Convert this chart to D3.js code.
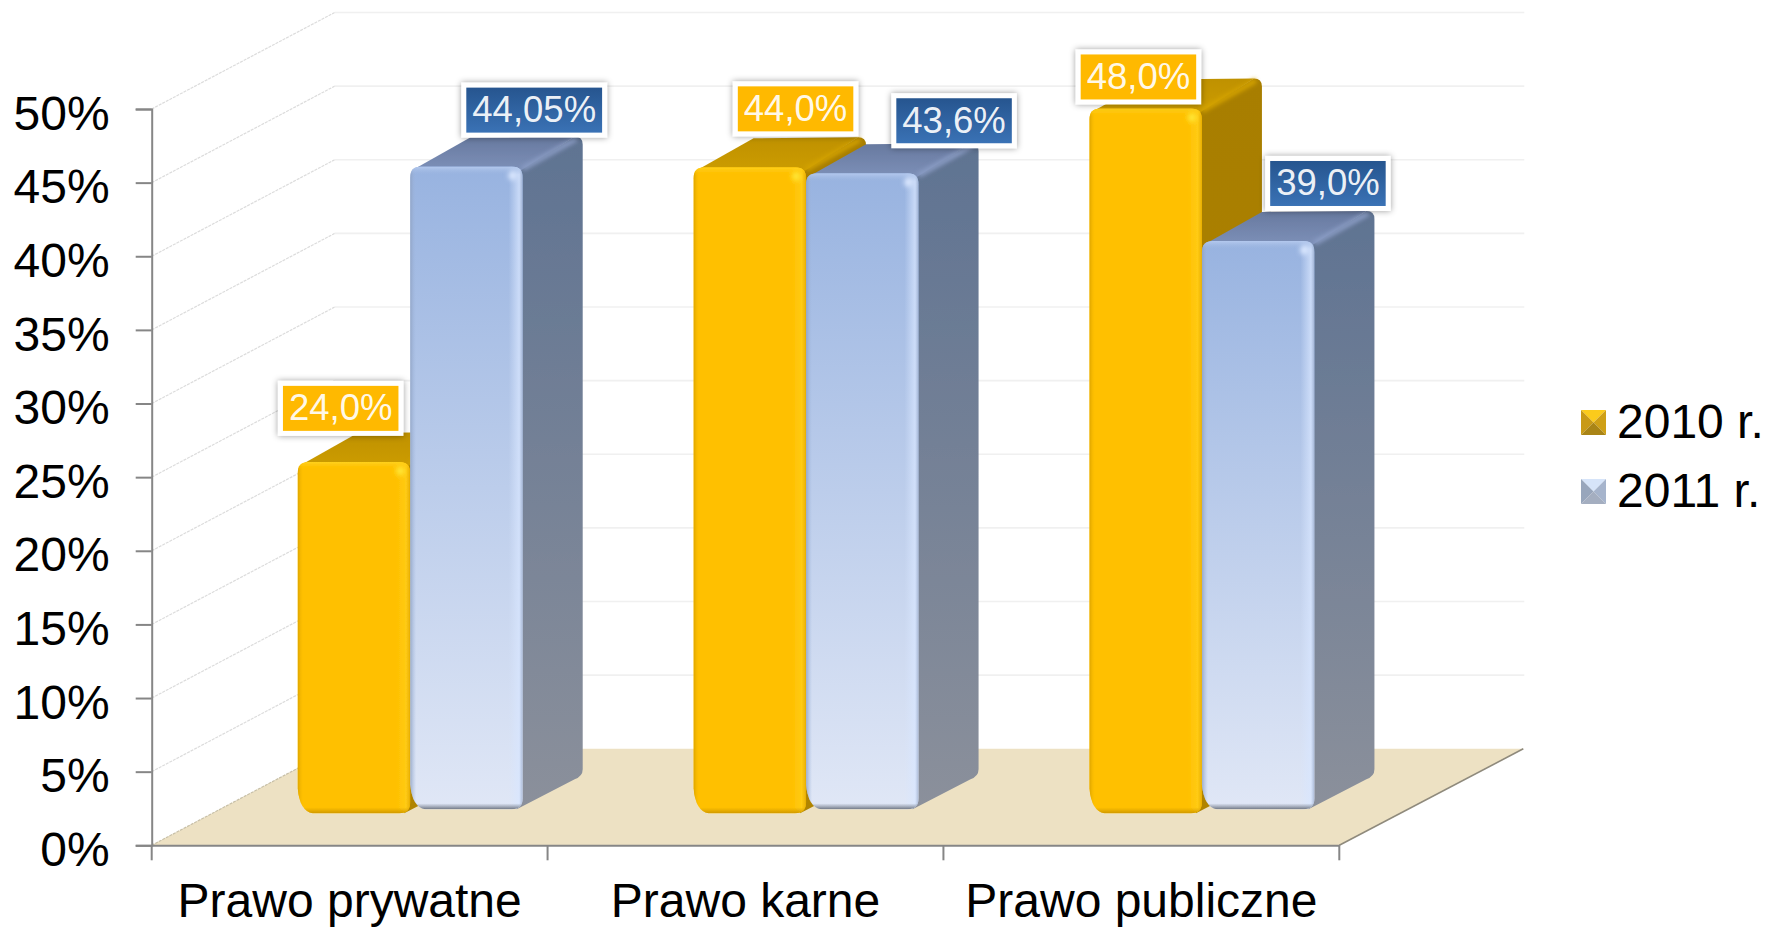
<!DOCTYPE html>
<html>
<head>
<meta charset="utf-8">
<style>
html, body { margin: 0; padding: 0; background: #fff; }
svg { display: block; }
text { font-family: "Liberation Sans", Arial, sans-serif; }
.axis path, .axis line { stroke: #868686; stroke-width: 2; }
.axis text { fill: #000; font-size: 48px; }
</style>
<script src="https://cdn.jsdelivr.net/npm/d3@7"></script>
</head>
<body>
<svg id="chart"></svg>
<script>
var categories = ["Prawo prywatne", "Prawo karne", "Prawo publiczne"];
var seriesNames = ["2010 r.", "2011 r."];
var values2010 = [24.0, 44.0, 48.0];
var values2011 = [44.05, 43.6, 39.0];
var labels2010 = ["24,0%", "44,0%", "48,0%"];
var labels2011 = ["44,05%", "43,6%", "39,0%"];
var yTicks = [0, 5, 10, 15, 20, 25, 30, 35, 40, 45, 50];

var width = 1767, height = 927;
var plotLeft = 151.7, plotRight = 1339.3, plotBottom = 845.3, plotTop = 109;
var wallDx = 183, wallDy = 96.5;
var depthDx = 60, depthDy = 30;
var topLift = 30;

// labels were moved by hand in the original, so they get their own nudges
var labelShift2010 = [[43, -56], [102, -61], [49, -34]];
var labelShift2011 = [[124, -59], [148, -55], [126, -60]];

var series = [
    {name: seriesNames[0], values: values2010, labels: labels2010, shift: labelShift2010, lift: 32, cls: "y",
        box: "#ffb900", boxEnd: "#ffb900"},
    {name: seriesNames[1], values: values2011, labels: labels2011, shift: labelShift2011, lift: 36, cls: "b",
        box: "#26558f", boxEnd: "#3a72b5"}
];

var svg = d3.select("#chart").attr("width", width).attr("height", height);
var defs = svg.append("defs");

function gradient(id, x2, y2, stops) {
    var g = defs.append("linearGradient").attr("id", id).attr("x1", 0).attr("y1", 0).attr("x2", x2).attr("y2", y2);
    stops.forEach(function(s) {
        g.append("stop").attr("offset", s[0]).attr("stop-color", s[1]).attr("stop-opacity", s[2] === undefined ? 1 : s[2]);
    });
}

gradient("faceB", 0, 1, [[0, "#98b3e0"], [1, "#e0e7f6"]]);
gradient("faceY", 0, 1, [[0, "#ffc000"], [1, "#ffc000"]]);
gradient("sideB", 0, 1, [[0, "#5f7392"], [1, "#8b909b"]]);
gradient("sideY", 0, 1, [[0, "#a87e00"], [1, "#b08400"]]);
gradient("topB", 0, 1, [[0, "#67799f"], [1, "#7d90b8"]]);
gradient("topY", 0, 1, [[0, "#bf9100"], [1, "#cc9c00"]]);
gradient("leftY", 1, 0, [[0, "#dca400"], [1, "#ffc000", 0]]);
gradient("rightY", 1, 0, [[0, "#ffcb14", 0], [0.7, "#ffcb14"], [1, "#e8ae00"]]);
gradient("leftB", 1, 0, [[0, "#8ea0bf", 0.8], [1, "#a0b8e0", 0]]);
gradient("rightB", 1, 0, [[0, "#d8e6ff", 0], [0.75, "#d8e6ff", 0.75], [1, "#9fb0cf", 0.8]]);
gradient("bottomY", 0, 1, [[0, "#d89f00", 0], [1, "#cf9800"]]);
gradient("bottomB", 0, 1, [[0, "#7d8694", 0], [1, "#6f7683"]]);
gradient("topEdgeY", 0, 1, [[0, "#ffd21e"], [1, "#ffc000", 0]]);
gradient("topEdgeB", 0, 1, [[0, "#b4c9ee"], [1, "#a0b8e0", 0]]);
series.forEach(function(s, i) {
    gradient("box" + i, 0, 1, [[0, s.box], [1, s.boxEnd]]);
});

var soft = defs.append("filter").attr("id", "soft");
soft.append("feGaussianBlur").attr("stdDeviation", 0.7);
var blur = defs.append("filter").attr("id", "blur").attr("x", "-50%").attr("y", "-50%").attr("width", "200%").attr("height", "200%");
blur.append("feGaussianBlur").attr("stdDeviation", 2);
var glow = defs.append("filter").attr("id", "glow").attr("x", "-100%").attr("y", "-100%").attr("width", "300%").attr("height", "300%");
glow.append("feGaussianBlur").attr("stdDeviation", 2.5);
var shadow = defs.append("filter").attr("id", "shadow").attr("x", "-20%").attr("y", "-30%").attr("width", "140%").attr("height", "160%");
shadow.append("feDropShadow").attr("dx", 0).attr("dy", 0).attr("stdDeviation", 3).attr("flood-color", "#000").attr("flood-opacity", 0.4);

var x0 = d3.scaleBand().domain(categories).range([plotLeft, plotRight]);
var y = d3.scaleLinear().domain([0, 50]).range([plotBottom, plotTop]);
var barStart = 146, barWidth = 112.5;
var x1 = d3.scaleBand().domain(seriesNames).range([barStart, barStart + 2 * barWidth]);

// floor
svg.append("path")
    .attr("d", d3.line()([[plotLeft, plotBottom], [plotLeft + wallDx, plotBottom - wallDy], [plotRight + wallDx + 1, plotBottom - wallDy], [plotRight, plotBottom]]))
    .attr("fill", "#ede1c3");

// walls, one line per tick
var grid = svg.append("g").attr("filter", "url(#soft)");
grid.selectAll(".wall").data(yTicks).enter().append("line").attr("class", "wall")
    .attr("x1", plotLeft).attr("y1", function(d) { return y(d); })
    .attr("x2", plotLeft + wallDx).attr("y2", function(d) { return y(d) - wallDy; })
    .attr("stroke", function(d) { return d === 0 ? "#c8c0a8" : "#dcdcdc"; })
    .attr("stroke-width", 1.2).attr("stroke-dasharray", "3 1");
grid.selectAll(".back").data(yTicks.filter(function(d) { return d > 0; })).enter().append("line").attr("class", "back")
    .attr("x1", plotLeft + wallDx).attr("y1", function(d) { return y(d) - wallDy; })
    .attr("x2", plotRight + wallDx + 2).attr("y2", function(d) { return y(d) - wallDy; })
    .attr("stroke", "#f0f0f0").attr("stroke-width", 1.6);
svg.append("line")
    .attr("x1", plotRight).attr("y1", plotBottom)
    .attr("x2", plotRight + wallDx + 1).attr("y2", plotBottom - wallDy)
    .attr("stroke", "#8f8a7c").attr("stroke-width", 1.6);

// axes
var yAxis = d3.axisLeft(y).tickValues(yTicks).tickSize(16).tickPadding(26).tickFormat(function(d) { return d + "%"; });
var yG = svg.append("g").attr("class", "axis").attr("transform", "translate(" + plotLeft + ",0)").call(yAxis);
yG.selectAll("text").attr("dy", "0.42em");

var xAxis = d3.axisBottom(x0).tickSize(0).tickPadding(38);
var xG = svg.append("g").attr("class", "axis").attr("transform", "translate(0," + plotBottom + ")").call(xAxis);
xG.selectAll("text").attr("dy", "0.71em");
xG.selectAll(".edge").data(d3.range(categories.length + 1)).enter().append("line").attr("class", "edge")
    .attr("x1", function(d) { return plotLeft + d * x0.bandwidth(); })
    .attr("x2", function(d) { return plotLeft + d * x0.bandwidth(); })
    .attr("y1", 0).attr("y2", 15);

function face(a, b, t, m, r) {
    var p = d3.path();
    p.moveTo(a, t + r);
    p.quadraticCurveTo(a, t, a + r, t);
    p.lineTo(b - r, t);
    p.quadraticCurveTo(b, t, b, t + r);
    p.lineTo(b, m - r);
    p.quadraticCurveTo(b, m, b - r, m);
    p.lineTo(a + r + 4, m);
    p.quadraticCurveTo(a + 2, m - 2, a, m - r - 14);
    p.closePath();
    return p.toString();
}

var bars = svg.append("g");

function drawBar(catIndex, s, sIndex) {
    var v = s.values[catIndex];
    var a = x0(categories[catIndex]) + x1(s.name);
    var b = a + barWidth;
    var t = y(v) - topLift;
    var m = plotBottom - s.lift;
    var g = bars.append("g").attr("filter", "url(#soft)");
    var clipId = "clip" + catIndex + "-" + sIndex;
    var up = s.cls.toUpperCase();

    var sidePath = "M" + (b - 2) + "," + (t + 4) + "L" + (b + depthDx - 8) + "," + (t - depthDy)
        + "Q" + (b + depthDx) + "," + (t - depthDy) + " " + (b + depthDx) + "," + (t - depthDy + 8)
        + "L" + (b + depthDx) + "," + (m - 40) + "Q" + (b + depthDx) + "," + (m - 33) + " " + (b + depthDx - 8) + "," + (m - 30)
        + "L" + (b - 6) + "," + m + "Z";

    g.append("path").attr("fill", "url(#top" + up + ")")
        .attr("d", "M" + (a + 5) + "," + (t + 2) + "L" + (a + depthDx) + "," + (t - depthDy + 1)
            + "L" + (b + depthDx - 8) + "," + (t - depthDy) + "L" + b + "," + (t + 4) + "Z");
    g.append("path").attr("fill", "url(#side" + up + ")").attr("d", sidePath);

    // lighter ridge where the top meets the side
    g.append("line")
        .attr("x1", b).attr("y1", t + 2)
        .attr("x2", b + depthDx - 6).attr("y2", t - depthDy + 2)
        .attr("stroke", s.cls === "y" ? "#d4a300" : "#8a9cc4").attr("stroke-width", 5).attr("filter", "url(#blur)");

    defs.append("clipPath").attr("id", clipId).append("path").attr("d", face(a, b, t, m, 11));
    g.append("path").attr("d", face(a, b, t, m, 11)).attr("fill", "url(#face" + up + ")");

    var bevel = g.append("g").attr("clip-path", "url(#" + clipId + ")");
    bevel.append("rect").attr("x", a).attr("y", t).attr("width", 6).attr("height", m - t).attr("fill", "url(#left" + up + ")");
    bevel.append("rect").attr("x", b - 14).attr("y", t).attr("width", 14).attr("height", m - t).attr("fill", "url(#right" + up + ")");
    bevel.append("rect").attr("x", a).attr("y", t).attr("width", barWidth).attr("height", 8).attr("fill", "url(#topEdge" + up + ")");
    bevel.append("rect").attr("x", a).attr("y", m - 6).attr("width", barWidth).attr("height", 6).attr("fill", "url(#bottom" + up + ")");
    bevel.append("circle").attr("cx", b - 10).attr("cy", t + 9).attr("r", 4.5)
        .attr("fill", s.cls === "y" ? "#ffe838" : "#dbe8ff").attr("filter", "url(#glow)");
}

categories.forEach(function(c, i) {
    series.forEach(function(s, j) {
        drawBar(i, s, j);
    });
});

// value labels go on top of every bar
var labelLayer = svg.append("g");
series.forEach(function(s, j) {
    s.labels.forEach(function(label, i) {
        var a = x0(categories[i]) + x1(s.name);
        var cx = a + s.shift[i][0];
        var bottom = y(s.values[i]) + s.shift[i][1];
        var g = labelLayer.append("g");
        var outer = g.append("rect").attr("fill", "#fff").attr("filter", "url(#shadow)");
        var inner = g.append("rect").attr("fill", "url(#box" + j + ")");
        var text = g.append("text").attr("x", cx).attr("y", bottom - 15.5).attr("text-anchor", "middle")
            .attr("font-size", 36.5).attr("fill", "#fff").attr("fill-opacity", 0.93).text(label);
        var w = text.node().getComputedTextLength() + 22;
        outer.attr("x", cx - w / 2).attr("y", bottom - 55).attr("width", w).attr("height", 55);
        inner.attr("x", cx - w / 2 + 5).attr("y", bottom - 50).attr("width", w - 10).attr("height", 45);
    });
});

// legend with the small pyramid swatches
var legendColors = [
    {top: "#fbcb1e", left: "#c99a12", right: "#cfa014", bottom: "#a98416"},
    {top: "#d6e4f9", left: "#98a6bc", right: "#a6b4cc", bottom: "#a4aec0"}
];
var legend = svg.append("g").selectAll("g").data(seriesNames).enter().append("g")
    .attr("transform", function(d, i) { return "translate(1581," + (410 + i * 69) + ")"; });
legend.each(function(d, i) {
    var g = d3.select(this);
    var c = legendColors[i];
    var size = 25, mid = size / 2;
    var swatch = g.append("g").attr("filter", "url(#soft)");
    swatch.append("path").attr("d", d3.line()([[0, 0], [size, 0], [mid, mid]])).attr("fill", c.top);
    swatch.append("path").attr("d", d3.line()([[0, 0], [mid, mid], [0, size]])).attr("fill", c.left);
    swatch.append("path").attr("d", d3.line()([[size, 0], [mid, mid], [size, size]])).attr("fill", c.right);
    swatch.append("path").attr("d", d3.line()([[0, size], [mid, mid], [size, size]])).attr("fill", c.bottom);
    g.append("text").attr("x", 36).attr("y", 28).attr("font-size", 48).attr("fill", "#000").text(d);
});
</script>
</body>
</html>
